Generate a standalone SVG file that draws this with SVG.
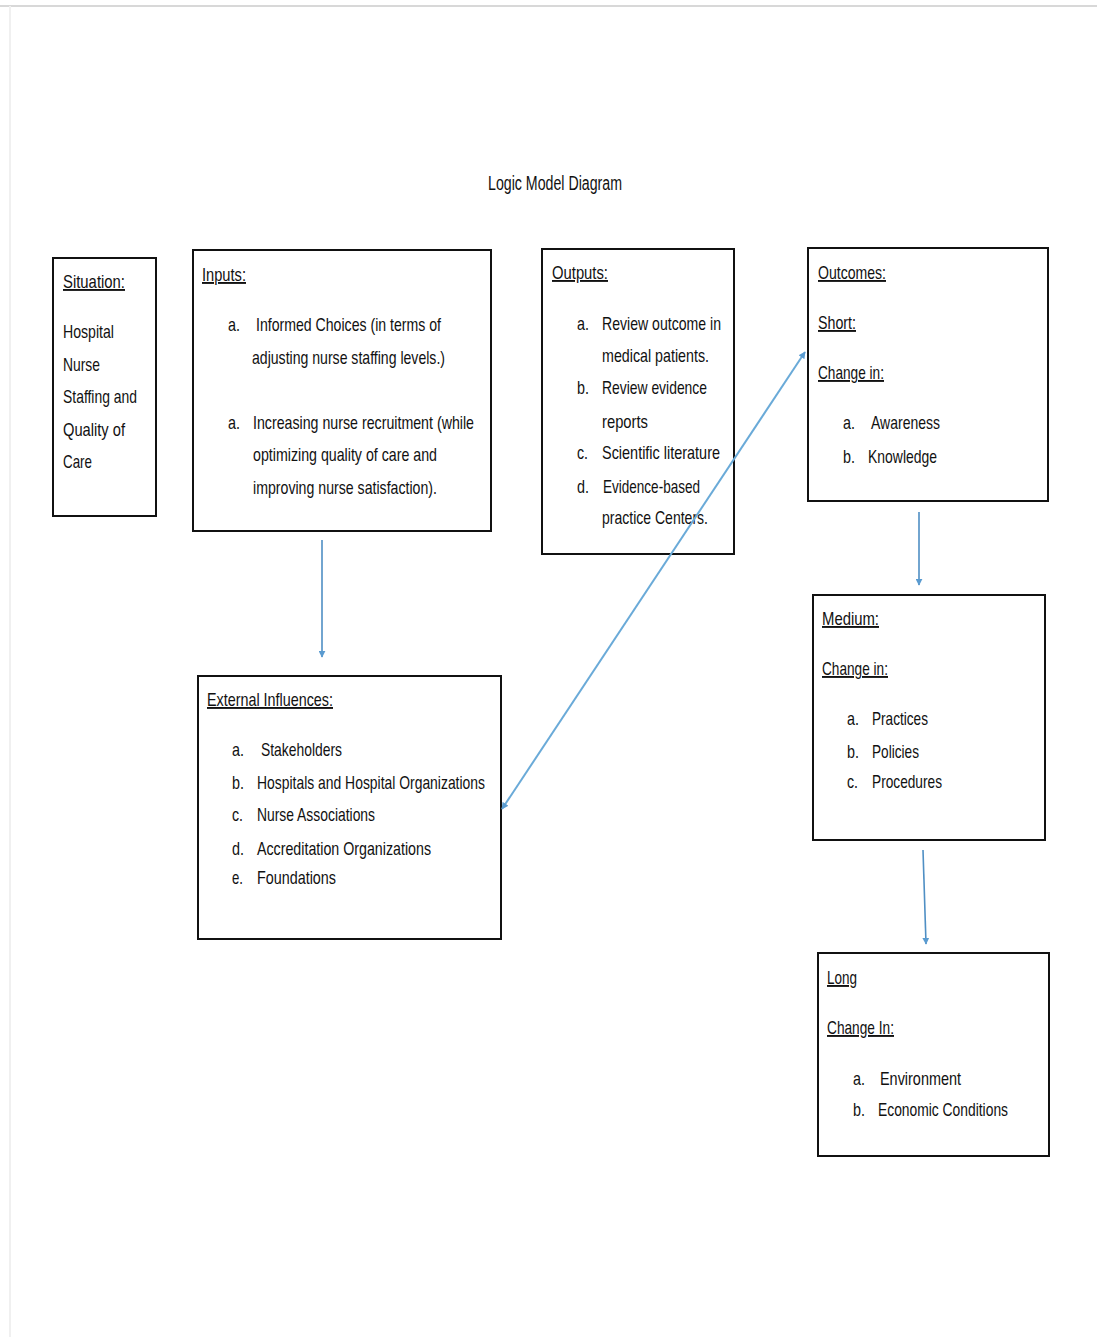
<svg xmlns="http://www.w3.org/2000/svg" width="1097" height="1337" viewBox="0 0 1097 1337">
<style>
text{font-family:"Liberation Sans",Arial,sans-serif;font-size:19px;fill:#111}
.h{text-decoration:underline}
.t{font-size:20px}
.box{fill:#fff;stroke:#111;stroke-width:2}
.con{stroke:#4f8fc4;stroke-width:1.6;fill:none}
.diag{stroke:#6aaad8;stroke-width:2;fill:none}
</style>
<defs>
<marker id="ah" viewBox="0 0 10 10" refX="9" refY="5" markerWidth="7" markerHeight="7" orient="auto-start-reverse" markerUnits="userSpaceOnUse">
<path d="M0,0 L10,5 L0,10 z" fill="#5a9bd0"/>
</marker>
</defs>
<rect width="1097" height="1337" fill="#fff"/>
<line x1="0" y1="6" x2="1097" y2="6" stroke="#d8d8d8" stroke-width="2"/>
<line x1="10" y1="6" x2="10" y2="1337" stroke="#f0f0f0" stroke-width="2"/>

<text class="t" x="488" y="190" textLength="134" lengthAdjust="spacingAndGlyphs">Logic Model Diagram</text>

<g id="situation">
<rect class="box" x="53" y="258" width="103" height="258"/>
<text class="h" x="63" y="288" textLength="62" lengthAdjust="spacingAndGlyphs">Situation:</text>
<text x="63" y="338" textLength="51" lengthAdjust="spacingAndGlyphs">Hospital</text>
<text x="63" y="371" textLength="37" lengthAdjust="spacingAndGlyphs">Nurse</text>
<text x="63" y="403" textLength="74" lengthAdjust="spacingAndGlyphs">Staffing and</text>
<text x="63" y="436" textLength="62" lengthAdjust="spacingAndGlyphs">Quality of</text>
<text x="63" y="468" textLength="29" lengthAdjust="spacingAndGlyphs">Care</text>
</g>

<g id="inputs">
<rect class="box" x="193" y="250" width="298" height="281"/>
<text class="h" x="202" y="281" textLength="44" lengthAdjust="spacingAndGlyphs">Inputs:</text>
<text x="228" y="331" textLength="12" lengthAdjust="spacingAndGlyphs">a.</text>
<text x="256" y="331" textLength="185" lengthAdjust="spacingAndGlyphs">Informed Choices (in terms of</text>
<text x="252" y="364" textLength="193" lengthAdjust="spacingAndGlyphs">adjusting nurse staffing levels.)</text>
<text x="228" y="429" textLength="12" lengthAdjust="spacingAndGlyphs">a.</text>
<text x="253" y="429" textLength="221" lengthAdjust="spacingAndGlyphs">Increasing nurse recruitment (while</text>
<text x="253" y="461" textLength="184" lengthAdjust="spacingAndGlyphs">optimizing quality of care and</text>
<text x="253" y="494" textLength="184" lengthAdjust="spacingAndGlyphs">improving nurse satisfaction).</text>
</g>

<g id="outputs">
<rect class="box" x="542" y="249" width="192" height="305"/>
<text class="h" x="552" y="279" textLength="56" lengthAdjust="spacingAndGlyphs">Outputs:</text>
<text x="577" y="330" textLength="12" lengthAdjust="spacingAndGlyphs">a.</text>
<text x="602" y="330" textLength="119" lengthAdjust="spacingAndGlyphs">Review outcome in</text>
<text x="602" y="362" textLength="107" lengthAdjust="spacingAndGlyphs">medical patients.</text>
<text x="577" y="394" textLength="12" lengthAdjust="spacingAndGlyphs">b.</text>
<text x="602" y="394" textLength="105" lengthAdjust="spacingAndGlyphs">Review evidence</text>
<text x="602" y="428" textLength="46" lengthAdjust="spacingAndGlyphs">reports</text>
<text x="577" y="459" textLength="11" lengthAdjust="spacingAndGlyphs">c.</text>
<text x="602" y="459" textLength="118" lengthAdjust="spacingAndGlyphs">Scientific literature</text>
<text x="577" y="493" textLength="12" lengthAdjust="spacingAndGlyphs">d.</text>
<text x="603" y="493" textLength="97" lengthAdjust="spacingAndGlyphs">Evidence-based</text>
<text x="602" y="524" textLength="106" lengthAdjust="spacingAndGlyphs">practice Centers.</text>
</g>

<g id="outcomes">
<rect class="box" x="808" y="248" width="240" height="253"/>
<text class="h" x="818" y="279" textLength="68" lengthAdjust="spacingAndGlyphs">Outcomes:</text>
<text class="h" x="818" y="329" textLength="38" lengthAdjust="spacingAndGlyphs">Short:</text>
<text class="h" x="818" y="379" textLength="66" lengthAdjust="spacingAndGlyphs">Change in:</text>
<text x="843" y="429" textLength="12" lengthAdjust="spacingAndGlyphs">a.</text>
<text x="871" y="429" textLength="69" lengthAdjust="spacingAndGlyphs">Awareness</text>
<text x="843" y="463" textLength="12" lengthAdjust="spacingAndGlyphs">b.</text>
<text x="868" y="463" textLength="69" lengthAdjust="spacingAndGlyphs">Knowledge</text>
</g>

<g id="external">
<rect class="box" x="198" y="676" width="303" height="263"/>
<text class="h" x="207" y="706" textLength="126" lengthAdjust="spacingAndGlyphs">External Influences:</text>
<text x="232" y="756" textLength="12" lengthAdjust="spacingAndGlyphs">a.</text>
<text x="261" y="756" textLength="81" lengthAdjust="spacingAndGlyphs">Stakeholders</text>
<text x="232" y="789" textLength="12" lengthAdjust="spacingAndGlyphs">b.</text>
<text x="257" y="789" textLength="228" lengthAdjust="spacingAndGlyphs">Hospitals and Hospital Organizations</text>
<text x="232" y="821" textLength="11" lengthAdjust="spacingAndGlyphs">c.</text>
<text x="257" y="821" textLength="118" lengthAdjust="spacingAndGlyphs">Nurse Associations</text>
<text x="232" y="855" textLength="12" lengthAdjust="spacingAndGlyphs">d.</text>
<text x="257" y="855" textLength="174" lengthAdjust="spacingAndGlyphs">Accreditation Organizations</text>
<text x="232" y="884" textLength="11" lengthAdjust="spacingAndGlyphs">e.</text>
<text x="257" y="884" textLength="79" lengthAdjust="spacingAndGlyphs">Foundations</text>
</g>

<g id="medium">
<rect class="box" x="813" y="595" width="232" height="245"/>
<text class="h" x="822" y="625" textLength="57" lengthAdjust="spacingAndGlyphs">Medium:</text>
<text class="h" x="822" y="675" textLength="66" lengthAdjust="spacingAndGlyphs">Change in:</text>
<text x="847" y="725" textLength="12" lengthAdjust="spacingAndGlyphs">a.</text>
<text x="872" y="725" textLength="56" lengthAdjust="spacingAndGlyphs">Practices</text>
<text x="847" y="758" textLength="12" lengthAdjust="spacingAndGlyphs">b.</text>
<text x="872" y="758" textLength="47" lengthAdjust="spacingAndGlyphs">Policies</text>
<text x="847" y="788" textLength="11" lengthAdjust="spacingAndGlyphs">c.</text>
<text x="872" y="788" textLength="70" lengthAdjust="spacingAndGlyphs">Procedures</text>
</g>

<g id="long">
<rect class="box" x="818" y="953" width="231" height="203"/>
<text class="h" x="827" y="984" textLength="30" lengthAdjust="spacingAndGlyphs">Long</text>
<text class="h" x="827" y="1034" textLength="67" lengthAdjust="spacingAndGlyphs">Change In:</text>
<text x="853" y="1085" textLength="12" lengthAdjust="spacingAndGlyphs">a.</text>
<text x="880" y="1085" textLength="81" lengthAdjust="spacingAndGlyphs">Environment</text>
<text x="853" y="1116" textLength="12" lengthAdjust="spacingAndGlyphs">b.</text>
<text x="878" y="1116" textLength="130" lengthAdjust="spacingAndGlyphs">Economic Conditions</text>
</g>

<g id="connectors">
<line class="con" x1="322" y1="540" x2="322" y2="657" marker-end="url(#ah)"/>
<line class="con" x1="919" y1="512" x2="919" y2="585" marker-end="url(#ah)"/>
<line class="con" x1="923" y1="850" x2="926" y2="944" marker-end="url(#ah)"/>
<line class="diag" x1="502" y1="809" x2="805" y2="352" marker-start="url(#ah)" marker-end="url(#ah)"/>
</g>
</svg>
